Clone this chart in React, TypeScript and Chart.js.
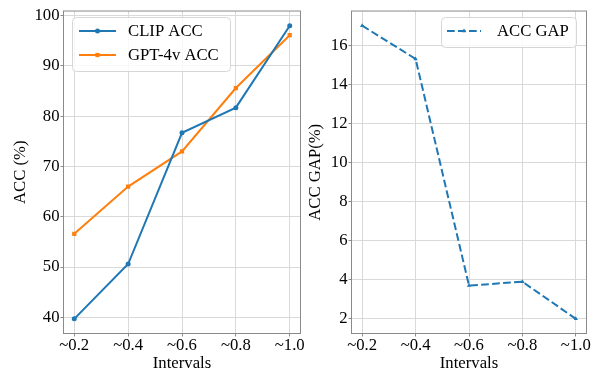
import React, { useEffect, useRef } from 'react';
import { Chart, registerables } from 'chart.js';

Chart.register(...registerables);

// ---- data ----
const intervals = ['~0.2', '~0.4', '~0.6', '~0.8', '~1.0'];
const clipAcc = [39.7, 50.6, 76.7, 81.7, 98.0];
const gptAcc = [56.6, 66.0, 73.0, 85.6, 96.1];
const accGap = [17.0, 15.3, 3.7, 3.9, 2.0];

const BLUE = '#1f77b4';
const ORANGE = '#ff7f0e';
const GRID = '#d9d9d9';
const SPINE = '#8a8a8a';
const FONT_FAMILY = "'Liberation Serif', 'Times New Roman', Times, serif";
const FS = 16.7;

const pts = (vals: number[]) => vals.map((v, i) => ({ x: i, y: v }));

const framePlugin = {
  id: 'frame',
  afterDatasetsDraw(chart: any) {
    const { ctx, chartArea } = chart;
    const { left, top, right, bottom } = chartArea;
    ctx.save();
    ctx.strokeStyle = SPINE;
    ctx.lineWidth = 1;
    ctx.strokeRect(left, top, right - left, bottom - top);
    ctx.restore();
  },
};

function drawMarker(ctx: CanvasRenderingContext2D, style: string, x: number, y: number, r: number) {
  ctx.beginPath();
  if (style === 'circle') {
    ctx.arc(x, y, r, 0, Math.PI * 2);
  } else if (style === 'rect') {
    const s = r * Math.SQRT1_2;
    ctx.rect(x - s, y - s, 2 * s, 2 * s);
  } else if (style === 'triangle') {
    let rad = 0;
    ctx.moveTo(x + Math.sin(rad) * r, y - Math.cos(rad) * r);
    rad += (2 * Math.PI) / 3;
    ctx.lineTo(x + Math.sin(rad) * r, y - Math.cos(rad) * r);
    rad += (2 * Math.PI) / 3;
    ctx.lineTo(x + Math.sin(rad) * r, y - Math.cos(rad) * r);
    ctx.closePath();
  }
  ctx.fill();
}

const legendPlugin = {
  id: 'mplLegend',
  afterDraw(chart: any, _args: any, opts: any) {
    if (!opts || !opts.box) return;
    const { ctx } = chart;
    const [bx, by, bw, bh] = opts.box;
    ctx.save();
    const r = 4;
    ctx.beginPath();
    ctx.moveTo(bx + r, by);
    ctx.lineTo(bx + bw - r, by);
    ctx.quadraticCurveTo(bx + bw, by, bx + bw, by + r);
    ctx.lineTo(bx + bw, by + bh - r);
    ctx.quadraticCurveTo(bx + bw, by + bh, bx + bw - r, by + bh);
    ctx.lineTo(bx + r, by + bh);
    ctx.quadraticCurveTo(bx, by + bh, bx, by + bh - r);
    ctx.lineTo(bx, by + r);
    ctx.quadraticCurveTo(bx, by, bx + r, by);
    ctx.closePath();
    ctx.fillStyle = 'rgba(255,255,255,0.8)';
    ctx.fill();
    ctx.strokeStyle = '#d6d6d6';
    ctx.lineWidth = 1;
    ctx.stroke();

    const datasets = chart.data.datasets;
    opts.rows.forEach((rowY: number, i: number) => {
      const ds = datasets[i];
      ctx.strokeStyle = ds.borderColor;
      ctx.lineWidth = ds.borderWidth;
      ctx.setLineDash(ds.borderDash || []);
      ctx.beginPath();
      ctx.moveTo(opts.lineX[0], rowY);
      ctx.lineTo(opts.lineX[1], rowY);
      ctx.stroke();
      ctx.setLineDash([]);
      ctx.fillStyle = ds.borderColor;
      drawMarker(ctx, ds.pointStyle, (opts.lineX[0] + opts.lineX[1]) / 2, rowY, ds.pointRadius);
      ctx.fillStyle = '#000';
      ctx.font = `${FS}px ${FONT_FAMILY}`;
      ctx.textBaseline = 'middle';
      ctx.textAlign = 'left';
      ctx.fillText(ds.label, opts.textX, rowY + 1);
    });
    ctx.restore();
  },
};

const font = { family: FONT_FAMILY, size: FS };

function makeConfig(p: {
  datasets: any[];
  yMin: number;
  yMax: number;
  yStep: number;
  yTitle: string;
  padLeft: number;
  padRight: number;
  yWidth: number;
  yTitlePad: number;
  legend: any;
}): any {
  return {
    type: 'line',
    data: { datasets: p.datasets },
    plugins: [framePlugin, legendPlugin],
    options: {
      animation: false,
      responsive: false,
      devicePixelRatio: 1,
      events: [],
      layout: { padding: { left: p.padLeft, right: p.padRight, top: 8.5, bottom: 0 } },
      plugins: {
        legend: { display: false },
        tooltip: { enabled: false },
        mplLegend: p.legend,
      },
      scales: {
        x: {
          type: 'linear',
          min: -0.2,
          max: 4.2,
          afterFit: (s: any) => {
            s.height = 38.5;
          },
          ticks: {
            stepSize: 1,
            includeBounds: false,
            autoSkip: false,
            maxRotation: 0,
            padding: -1,
            color: '#000',
            font,
            callback: (v: number) => intervals[v] ?? '',
          },
          grid: { color: GRID, tickColor: SPINE, tickLength: 3, lineWidth: 1 },
          border: { display: false },
          title: {
            display: true,
            text: 'Intervals',
            color: '#000',
            font,
            padding: { top: 0, bottom: -2 },
          },
        },
        y: {
          type: 'linear',
          min: p.yMin,
          max: p.yMax,
          afterFit: (s: any) => {
            s.width = p.yWidth;
          },
          ticks: {
            stepSize: p.yStep,
            includeBounds: false,
            padding: 1,
            color: '#000',
            font,
          },
          grid: { color: GRID, tickColor: SPINE, tickLength: 3, lineWidth: 1 },
          border: { display: false },
          title: {
            display: true,
            text: p.yTitle,
            color: '#000',
            font,
            padding: { top: p.yTitlePad, bottom: 0 },
          },
        },
      },
    },
  };
}

export default function App() {
  const ref1 = useRef<HTMLCanvasElement>(null);
  const ref2 = useRef<HTMLCanvasElement>(null);

  useEffect(() => {
    const c1 = new Chart(
      ref1.current!,
      makeConfig({
        datasets: [
          {
            label: 'CLIP ACC',
            data: pts(clipAcc),
            borderColor: BLUE,
            backgroundColor: BLUE,
            borderWidth: 2,
            pointStyle: 'circle',
            pointRadius: 2.5,
            pointBorderWidth: 0,
            tension: 0,
          },
          {
            label: 'GPT-4v ACC',
            data: pts(gptAcc),
            borderColor: ORANGE,
            backgroundColor: ORANGE,
            borderWidth: 2,
            pointStyle: 'rect',
            pointRadius: 3,
            pointBorderWidth: 0,
            tension: 0,
          },
        ],
        yMin: 36.785,
        yMax: 100.915,
        yStep: 10,
        yTitle: 'ACC (%)',
        padLeft: 0,
        padRight: 296.5,
        yWidth: 63.5,
        yTitlePad: 11,
        legend: { box: [72.5, 17.5, 158, 54], rows: [31, 55], lineX: [79, 116], textX: 128 },
      })
    );
    const c2 = new Chart(
      ref2.current!,
      makeConfig({
        datasets: [
          {
            label: 'ACC GAP',
            data: pts(accGap),
            borderColor: BLUE,
            backgroundColor: BLUE,
            borderWidth: 2,
            borderDash: [7.7, 3.3],
            pointStyle: 'triangle',
            pointRadius: 2.5,
            pointBorderWidth: 0,
            tension: 0,
          },
        ],
        yMin: 1.25,
        yMax: 17.75,
        yStep: 2,
        yTitle: 'ACC GAP(%)',
        padLeft: 300,
        padRight: 10.5,
        yWidth: 51.5,
        yTitlePad: 6,
        legend: { box: [441.5, 17.5, 135, 30], rows: [31], lineX: [447, 481], textX: 497 },
      })
    );
    return () => {
      c1.destroy();
      c2.destroy();
    };
  }, []);

  return (
    <div style={{ position: 'absolute', left: 0, top: 0, width: 597, height: 372, background: '#fff' }}>
      <canvas ref={ref1} width={597} height={372} style={{ position: 'absolute', left: 0, top: 0 }} />
      <canvas ref={ref2} width={597} height={372} style={{ position: 'absolute', left: 0, top: 0 }} />
    </div>
  );
}
